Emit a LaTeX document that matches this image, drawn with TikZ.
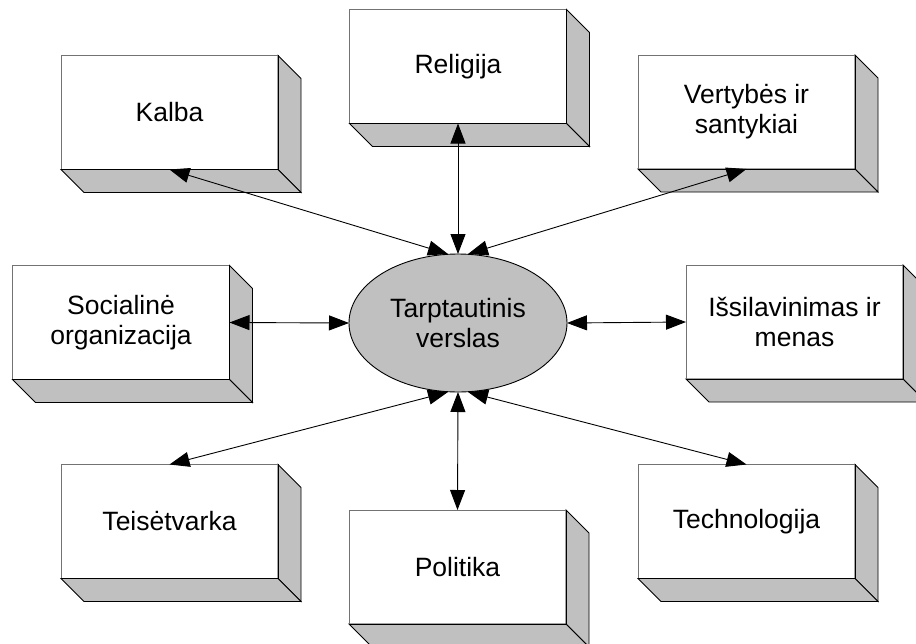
\documentclass[tikz,border=0pt]{standalone}
\usepackage{fontspec}
\setmainfont{Liberation Sans}
\usetikzlibrary{shapes.geometric,arrows.meta,calc}
\definecolor{silver}{RGB}{192,192,192}
\newcommand\cubebox[3]{%
  \node[front] (#1) at (#2) {#3};
  \filldraw[side] (#1.north east) -- ++(23,23) -- ++(0,114) -- ++(-23,-23) -- cycle;
  \filldraw[side] (#1.south west) -- (#1.south east) -- ++(23,23) -- ++(-217,0) -- cycle;
  \draw[frontedge, draw=black!55] (#1.south west) -- (#1.north west) -- (#1.north east);
  \draw[frontedge] (#1.north east) -- (#1.south east) -- (#1.south west);
}
\begin{document}
\begin{tikzpicture}[x=1pt,y=-1pt,
  labelfont/.style={font=\fontsize{26.5}{30}\selectfont},
  front/.style={draw=none,fill=white,minimum width=217pt,minimum height=114pt,
    inner sep=0pt,outer sep=0pt,align=center,labelfont},
  side/.style={fill=silver,draw=black,line width=0.9pt,line join=miter},
  frontedge/.style={line width=0.9pt,line cap=rect},
  core/.style={ellipse,fill=silver,draw=black,line width=0.9pt,minimum width=218pt,
    minimum height=138pt,inner sep=0pt,outer sep=0pt,align=center,labelfont},
  link/.style={{Triangle[length=20pt,width=15pt]}-{Triangle[length=20pt,width=15pt]},line width=0.9pt}
]
\useasboundingbox (0,0) rectangle (916,643);
\fill[white] (0,0) rectangle (916,643);

\cubebox{kalba}{169.5,112.5}{Kalba}
\cubebox{religija}{458,66.5}{Religija}
\cubebox{vertybes}{746.5,112}{Vertybės ir\\santykiai}
\cubebox{socialine}{121,322.5}{Socialinė\\organizacija}
\cubebox{issilav}{794.5,322}{Išsilavinimas ir\\menas}
\cubebox{teise}{169.5,521.5}{Teisėtvarka}
\cubebox{politika}{457.5,567}{Politika}
\cubebox{techno}{746.5,521.5}{Technologija}

\node[core] (core) at (458,323) {Tarptautinis\\verslas};

\draw[link] (kalba.south) -- ([xshift=-10pt]core.north);
\draw[link] (religija.south) -- (core.north);
\draw[link] (vertybes.south) -- ([xshift=10pt]core.north);
\draw[link] (socialine.east) -- (core.west);
\draw[link] (issilav.west) -- (core.east);
\draw[link] (teise.north) -- ([xshift=-10pt]core.south);
\draw[link] (politika.north) -- (core.south);
\draw[link] (techno.north) -- ([xshift=10pt]core.south);
\end{tikzpicture}
\end{document}
